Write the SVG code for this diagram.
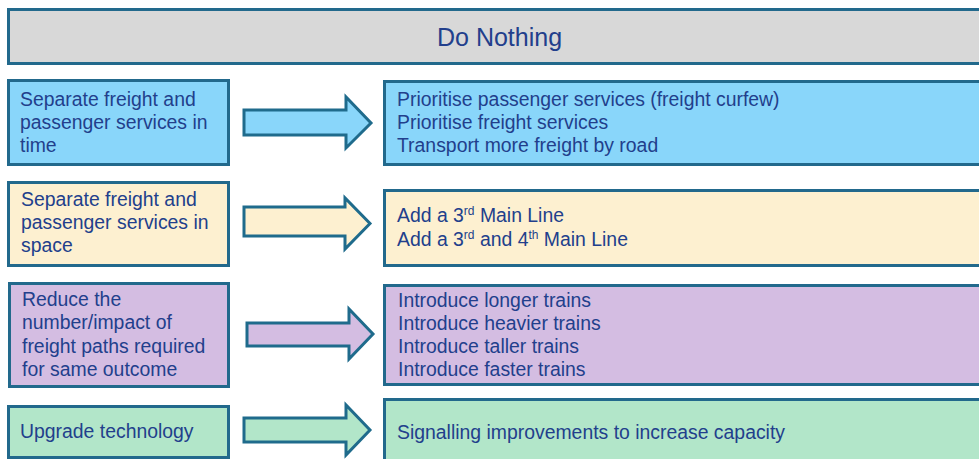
<svg xmlns="http://www.w3.org/2000/svg" width="979" height="459" viewBox="0 0 979 459">
  <style>
    .box { stroke: #22698c; stroke-width: 3; }
    .arrow { stroke: #1f6b8c; stroke-width: 3; stroke-linejoin: miter; }
    .grey { fill: #d8d8d8; }
    .blue { fill: #89d6fa; }
    .yellow { fill: #fdf0d0; }
    .purple { fill: #d4bde2; }
    .green { fill: #b2e6c9; }
    text { font-family: "Liberation Sans", Arial, sans-serif; font-size: 19.4px; fill: #223f8c; }
    .title { font-size: 25px; }
    .sup { font-size: 12px; }
  </style>
  <rect width="979" height="459" fill="#ffffff"/>

  <!-- header -->
  <g id="do-nothing">
    <rect class="box grey" x="8.5" y="9.5" width="990" height="54"/>
    <text class="title" x="437" y="46">Do Nothing</text>
  </g>

  <!-- option categories (left column) -->
  <g id="separate-time">
    <rect class="box blue" x="8.5" y="80.5" width="220" height="84"/>
    <text x="20" y="106">Separate freight and</text>
    <text x="20" y="129">passenger services in</text>
    <text x="20" y="152">time</text>
  </g>
  <g id="separate-space">
    <rect class="box yellow" x="8.5" y="182.5" width="220" height="83"/>
    <text x="21" y="206">Separate freight and</text>
    <text x="21" y="229">passenger services in</text>
    <text x="21" y="252">space</text>
  </g>
  <g id="reduce-paths">
    <rect class="box purple" x="9.5" y="283.5" width="219" height="103"/>
    <text x="22" y="306">Reduce the</text>
    <text x="22" y="329">number/impact of</text>
    <text x="22" y="353">freight paths required</text>
    <text x="22" y="376">for same outcome</text>
  </g>
  <g id="upgrade-tech">
    <rect class="box green" x="8.5" y="406.5" width="220" height="51"/>
    <text x="20" y="438">Upgrade technology</text>
  </g>

  <!-- options (right column) -->
  <g id="time-options">
    <rect class="box blue" x="384.5" y="81.5" width="610" height="83"/>
    <text x="397" y="106">Prioritise passenger services (freight curfew)</text>
    <text x="397" y="129">Prioritise freight services</text>
    <text x="397" y="152">Transport more freight by road</text>
  </g>
  <g id="space-options">
    <rect class="box yellow" x="384.5" y="190.5" width="610" height="75"/>
    <text x="397" y="222">Add a 3<tspan class="sup" dy="-7">rd</tspan><tspan dy="7"> Main Line</tspan></text>
    <text x="397" y="246">Add a 3<tspan class="sup" dy="-7">rd</tspan><tspan dy="7"> and 4</tspan><tspan class="sup" dy="-7">th</tspan><tspan dy="7"> Main Line</tspan></text>
  </g>
  <g id="path-options">
    <rect class="box purple" x="384.5" y="285.5" width="610" height="99"/>
    <text x="398" y="307">Introduce longer trains</text>
    <text x="398" y="330">Introduce heavier trains</text>
    <text x="398" y="353">Introduce taller trains</text>
    <text x="398" y="376">Introduce faster trains</text>
  </g>
  <g id="tech-options">
    <rect class="box green" x="384.5" y="399.5" width="610" height="80"/>
    <text x="397" y="439">Signalling improvements to increase capacity</text>
  </g>

  <!-- block arrows linking each category to its options -->
  <g id="connectors">
    <polygon class="arrow blue" points="244,110 346,110 346,97 371,123 346,148 346,135 244,135"/>
    <polygon class="arrow yellow" points="244,207 345,207 345,198 370,223.5 345,249 345,236 244,236"/>
    <polygon class="arrow purple" points="247,323 349,323 349,309 373,334 349,359 349,346 247,346"/>
    <polygon class="arrow green" points="244,418 346,418 346,405 370,430 346,455 346,442 244,442"/>
  </g>
</svg>
